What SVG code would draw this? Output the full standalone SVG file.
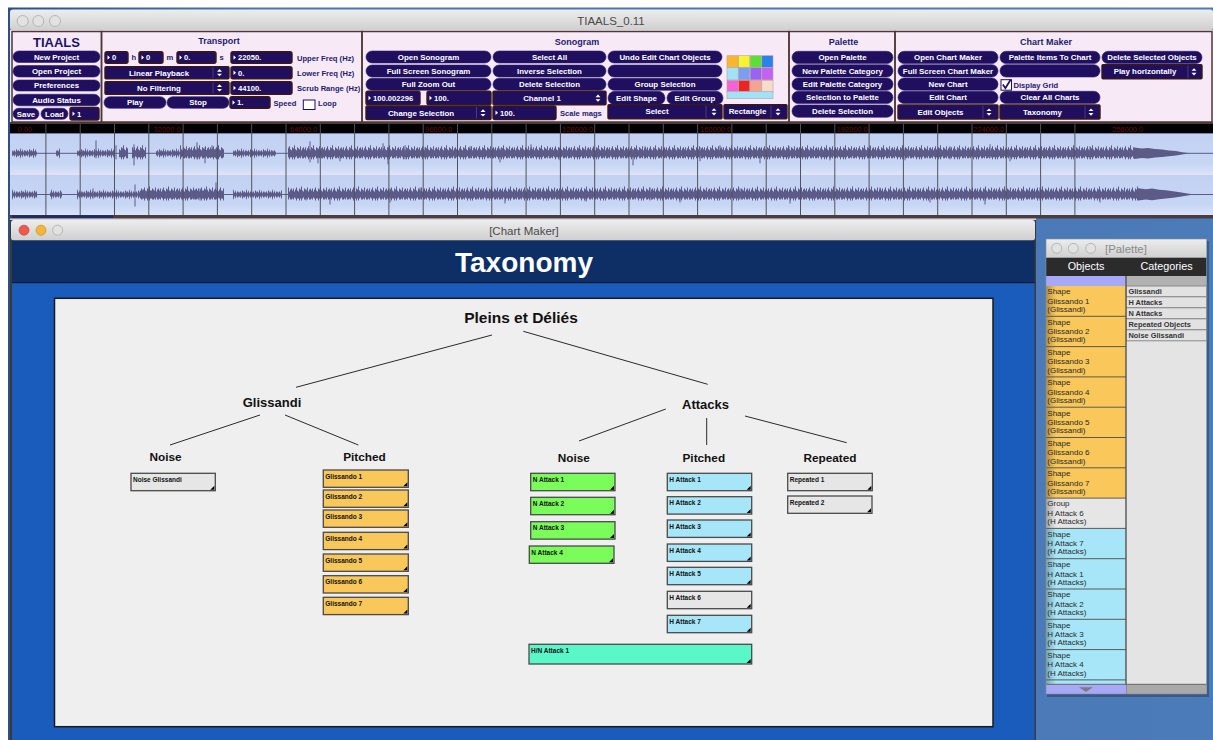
<svg xmlns="http://www.w3.org/2000/svg" xmlns:xlink="http://www.w3.org/1999/xlink" width="1213" height="740" viewBox="0 0 1213 740">
<style>
.b{fill:#1f0f5e;stroke:#2e2070;stroke-width:.6}
.bt{font:bold 7.9px "Liberation Sans",Arial,sans-serif;fill:#fff;text-anchor:middle}
.nb{fill:#1f0f5e;stroke:#3b1818;stroke-width:1.4}
.nt{font:bold 7.6px "Liberation Sans",Arial,sans-serif;fill:#fff}
.lb{font:bold 7.6px "Liberation Sans",Arial,sans-serif;fill:#1e1b6e}
.pt{font:bold 9px "Liberation Sans",Arial,sans-serif;fill:#1e1b6e;text-anchor:middle}
.w{fill:#fff}
.sep{stroke:#6a5a8a;stroke-width:.6}
.pn{fill:none;stroke:#4d3838;stroke-width:1.5}
.tl{fill:#e2e2e2;stroke:#a9a9a9;stroke-width:.8}
.wt{font:11.5px "Liberation Sans",Arial,sans-serif;fill:#4a4a4a;text-anchor:middle}
.node rect{stroke:#4a4a4a;stroke-width:1.3}
.node path{fill:#000}
.nl{font:bold 6.5px "Liberation Sans",Arial,sans-serif;fill:#111}
.hd{font:bold 11.8px "Liberation Sans",Arial,sans-serif;fill:#111;text-anchor:middle}
.cn line{stroke:#2a2a2a;stroke-width:1}
.wf{stroke:#5c5a86;stroke-width:1;fill:none}
.rl{font:7.5px "Liberation Sans",Arial,sans-serif;fill:#6a0c0c}
.po{font:8px "Liberation Sans",Arial,sans-serif;fill:#2a2a2a}
.pc{font:bold 7.4px "Liberation Sans",Arial,sans-serif;fill:#333}
.gold{fill:#f9c75a}
.blu{fill:#a6e6f8}
.gry{fill:#e6e6e6}
.grn{fill:#7afc5a}
</style>
<defs>
<linearGradient id="tb" x1="0" y1="0" x2="0" y2="1"><stop offset="0" stop-color="#ededed"/><stop offset="1" stop-color="#cfcfcf"/></linearGradient>
<linearGradient id="desk" x1="0" y1="0" x2="1" y2="0"><stop offset="0" stop-color="#2c4f86"/><stop offset=".2" stop-color="#4675b2"/><stop offset="1" stop-color="#4b7bb8"/></linearGradient>
<linearGradient id="ch" x1="0" y1="0" x2="0" y2="1"><stop offset="0" stop-color="#c2d0f2"/><stop offset=".75" stop-color="#c8d6f5"/><stop offset="1" stop-color="#d9e3f9"/></linearGradient>
<linearGradient id="sh" x1="0" y1="0" x2="1" y2="0"><stop offset="0" stop-color="#000" stop-opacity=".28"/><stop offset="1" stop-color="#000" stop-opacity="0"/></linearGradient>
<path id="wa" d="M0.5 8v4M1.5 7v6M2.5 8.5v3M3.5 6v8M4.5 7.5v5M5.5 7v6M6.5 8v4M7.5 5.5v9M8.5 8v4M9.5 6.5v7M10.5 8.5v3M11.5 7v6M12.5 7.5v5" class="wf"/>
<path id="wb" d="M0.5 8v8M1.5 6v11M2.5 9v6M3.5 7v9M4.5 5v13M5.5 8v8M6.5 9v7M7.5 6v12M8.5 7v9M9.5 4v14M10.5 8v8M11.5 9v6M12.5 6v11M13.5 7v10M14.5 8v8M15.5 5v12M16.5 9v6M17.5 7v10M18.5 6v11" class="wf"/>
<pattern id="pa1" patternUnits="userSpaceOnUse" x="0" y="143.3" width="13" height="20"><use xlink:href="#wa"/></pattern>
<pattern id="pb1" patternUnits="userSpaceOnUse" x="0" y="141.3" width="19" height="24"><use xlink:href="#wb"/></pattern>
<pattern id="pa2" patternUnits="userSpaceOnUse" x="5" y="184.5" width="13" height="20"><use xlink:href="#wa"/></pattern>
<pattern id="pb2" patternUnits="userSpaceOnUse" x="7" y="182.5" width="19" height="24"><use xlink:href="#wb"/></pattern>
</defs>

<!-- screen background -->
<rect x="0" y="0" width="1213" height="740" fill="#fff"/>
<rect x="8" y="7.5" width="1205" height="733" fill="url(#desk)"/>

<!-- ================= MAIN WINDOW ================= -->
<g id="main-window">
<rect x="10" y="9.5" width="1203" height="21" fill="url(#tb)" rx="3"/>
<circle cx="22.7" cy="21" r="5.5" class="tl"/><circle cx="38.3" cy="21" r="5.5" class="tl"/><circle cx="55" cy="21" r="5.5" class="tl"/>
<text x="611" y="25" class="wt">TIAALS_0.11</text>
<rect x="10" y="30" width="1203" height="92.5" fill="#f8e9f7"/>
<rect x="12" y="31.5" width="89.5" height="90.5" class="pn"/>
<rect x="101.5" y="31.5" width="260.5" height="90.5" class="pn"/>
<rect x="362" y="31.5" width="427" height="90.5" class="pn"/>
<rect x="789" y="31.5" width="106" height="90.5" class="pn"/>
<rect x="895" y="31.5" width="317" height="90.5" class="pn"/>
</g>

<!-- TIAALS panel -->
<g id="panel-tiaals">
<text x="56.5" y="46.5" style="font:bold 13px 'Liberation Sans',Arial,sans-serif;fill:#1b1464;text-anchor:middle">TIAALS</text>
<rect class="b" x="13" y="51" width="87" height="11.5" rx="5.75"/><text class="bt" x="56.5" y="59.5">New Project</text>
<rect class="b" x="13" y="65.5" width="87" height="11.5" rx="5.75"/><text class="bt" x="56.5" y="74">Open Project</text>
<rect class="b" x="13" y="80" width="87" height="11" rx="5.5"/><text class="bt" x="56.5" y="88.2">Preferences</text>
<rect class="b" x="13" y="94.3" width="87" height="11.5" rx="5.75"/><text class="bt" x="56.5" y="102.8">Audio Status</text>
<rect class="b" x="13" y="108.3" width="26" height="11" rx="5.5"/><text class="bt" x="26" y="116.5">Save</text>
<rect class="b" x="41" y="108.3" width="27" height="11" rx="5.5"/><text class="bt" x="54.5" y="116.5">Load</text>
<rect class="nb" x="70" y="107.5" width="29" height="12.5" rx="2"/><path class="w" d="M72.5 111.5v4.5l2.5-2.25z"/><text class="nt" x="77" y="116.5">1</text>
</g>

<!-- Transport panel -->
<g id="panel-transport">
<text class="pt" x="219" y="44">Transport</text>
<rect class="nb" x="105" y="51.7" width="23" height="11.6" rx="2"/><path class="w" d="M107.5 55.3v4.5l2.5-2.25z"/><text class="nt" x="112" y="60.3">0</text>
<text class="lb" x="131.5" y="60.3">h</text>
<rect class="nb" x="139" y="51.7" width="24" height="11.6" rx="2"/><path class="w" d="M141.5 55.3v4.5l2.5-2.25z"/><text class="nt" x="146" y="60.3">0</text>
<text class="lb" x="166.5" y="60.3">m</text>
<rect class="nb" x="177" y="51.7" width="39" height="11.6" rx="2"/><path class="w" d="M179.5 55.3v4.5l2.5-2.25z"/><text class="nt" x="184" y="60.3">0.</text>
<text class="lb" x="219.5" y="60.3">s</text>
<rect class="nb" x="231" y="51.7" width="61" height="11.6" rx="2"/><path class="w" d="M233.5 55.3v4.5l2.5-2.25z"/><text class="nt" x="238" y="60.3">22050.</text>
<text class="lb" x="297" y="60.5">Upper Freq (Hz)</text>

<rect class="nb" x="105" y="66.7" width="124" height="12" rx="1"/><line class="sep" x1="213" y1="67.5" x2="213" y2="78"/>
<path class="w" d="M217 71.7h5l-2.5-2.6zM217 73.7h5l-2.5 2.6z"/><text class="bt" x="159" y="75.5">Linear Playback</text>
<rect class="nb" x="231" y="66.7" width="61" height="12" rx="2"/><path class="w" d="M233.5 70.5v4.5l2.5-2.25z"/><text class="nt" x="238" y="75.5">0.</text>
<text class="lb" x="297" y="75.5">Lower Freq (Hz)</text>

<rect class="nb" x="105" y="81.7" width="124" height="12.5" rx="1"/><line class="sep" x1="213" y1="82.5" x2="213" y2="93.5"/>
<path class="w" d="M217 86.9h5l-2.5-2.6zM217 88.9h5l-2.5 2.6z"/><text class="bt" x="159" y="90.7">No Filtering</text>
<rect class="nb" x="231" y="81.7" width="61" height="12.5" rx="2"/><path class="w" d="M233.5 85.7v4.5l2.5-2.25z"/><text class="nt" x="238" y="90.7">44100.</text>
<text class="lb" x="297" y="90.5">Scrub Range (Hz)</text>

<rect class="b" x="104" y="96.7" width="62" height="11.6" rx="5.8"/><text class="bt" x="135" y="105.2">Play</text>
<rect class="b" x="167" y="96.7" width="62" height="11.6" rx="5.8"/><text class="bt" x="198" y="105.2">Stop</text>
<rect class="nb" x="230" y="96.7" width="40" height="11.6" rx="2"/><path class="w" d="M232.5 100.3v4.5l2.5-2.25z"/><text class="nt" x="237" y="105.3">1.</text>
<text class="lb" x="273.5" y="106">Speed</text>
<rect x="303.3" y="100" width="11.7" height="9.5" fill="#fff" stroke="#1f0f5e" stroke-width="1"/>
<text class="lb" x="318" y="106.3">Loop</text>
</g>

<!-- Sonogram panel -->
<g id="panel-sonogram">
<text class="pt" x="577" y="44.5">Sonogram</text>
<rect class="b" x="366" y="51" width="125" height="12" rx="6"/><text class="bt" x="428.5" y="59.8">Open Sonogram</text>
<rect class="b" x="493" y="51" width="113" height="12" rx="6"/><text class="bt" x="549.5" y="59.8">Select All</text>
<rect class="b" x="608" y="51" width="114" height="12" rx="6"/><text class="bt" x="665" y="59.8">Undo Edit Chart Objects</text>
<rect class="b" x="366" y="65" width="125" height="12" rx="6"/><text class="bt" x="428.5" y="73.8">Full Screen Sonogram</text>
<rect class="b" x="493" y="65" width="113" height="12" rx="6"/><text class="bt" x="549.5" y="73.8">Inverse Selection</text>
<rect class="b" x="608" y="65" width="114" height="12" rx="6"/>
<rect class="b" x="366" y="78.3" width="125" height="12" rx="6"/><text class="bt" x="428.5" y="87.1">Full Zoom Out</text>
<rect class="b" x="493" y="78.3" width="113" height="12" rx="6"/><text class="bt" x="549.5" y="87.1">Delete Selection</text>
<rect class="b" x="608" y="78.3" width="114" height="12" rx="6"/><text class="bt" x="665" y="87.1">Group Selection</text>

<rect class="nb" x="366" y="91.3" width="54" height="13.5" rx="2"/><path class="w" d="M368.5 95.8v4.5l2.5-2.25z"/><text class="nt" x="373" y="100.8">100.002296</text>
<rect class="nb" x="427" y="91.3" width="64" height="13.5" rx="2"/><path class="w" d="M429.5 95.8v4.5l2.5-2.25z"/><text class="nt" x="434" y="100.8">100.</text>
<rect class="nb" x="493" y="91.3" width="113" height="13.5" rx="1"/>
<path class="w" d="M595.5 97.2h5l-2.5-2.6zM595.5 99.2h5l-2.5 2.6z"/><text class="bt" x="542" y="100.8">Channel 1</text>
<rect class="b" x="608" y="91.3" width="57" height="13.5" rx="6.75"/><text class="bt" x="636.5" y="100.8">Edit Shape</text>
<rect class="b" x="667" y="91.3" width="56" height="13.5" rx="6.75"/><text class="bt" x="695" y="100.8">Edit Group</text>

<rect class="nb" x="366" y="106" width="125" height="13.5" rx="1"/><line class="sep" x1="476.5" y1="107" x2="476.5" y2="118.5"/>
<path class="w" d="M480.5 111.9h5l-2.5-2.6zM480.5 113.9h5l-2.5 2.6z"/><text class="bt" x="421" y="115.5">Change Selection</text>
<rect class="nb" x="493" y="106" width="63" height="13.5" rx="2"/><path class="w" d="M495.5 110.5v4.5l2.5-2.25z"/><text class="nt" x="500" y="115.5">100.</text>
<text class="lb" x="560" y="116.3">Scale mags</text>
<rect class="nb" x="608" y="104.7" width="114" height="14" rx="1"/><line class="sep" x1="706" y1="105.5" x2="706" y2="118"/>
<path class="w" d="M711.5 110.8h5l-2.5-2.6zM711.5 112.8h5l-2.5 2.6z"/><text class="bt" x="657" y="114.4">Select</text>
<rect class="nb" x="724" y="104.7" width="63" height="14" rx="1"/><line class="sep" x1="771" y1="105.5" x2="771" y2="118"/>
<path class="w" d="M775.5 110.8h5l-2.5-2.6zM775.5 112.8h5l-2.5 2.6z"/><text class="bt" x="747.5" y="114.4">Rectangle</text>

<g stroke="#b4a2a6" stroke-width=".6">
<rect x="727" y="55.7" width="11.2" height="11.6" fill="#f8b62e"/>
<rect x="738.6" y="55.7" width="11.2" height="11.6" fill="#f6f42c"/>
<rect x="750.2" y="55.7" width="11.2" height="11.6" fill="#5ae032"/>
<rect x="761.8" y="55.7" width="11.2" height="11.6" fill="#2a82e8"/>
<rect x="727" y="67.7" width="11.2" height="12.2" fill="#a2e2f6"/>
<rect x="738.6" y="67.7" width="11.2" height="12.2" fill="#7c9ef2"/>
<rect x="750.2" y="67.7" width="11.2" height="12.2" fill="#9a62f0"/>
<rect x="761.8" y="67.7" width="11.2" height="12.2" fill="#c462f0"/>
<rect x="727" y="80.3" width="11.2" height="12.2" fill="#f264d2"/>
<rect x="738.6" y="80.3" width="11.2" height="12.2" fill="#f02222"/>
<rect x="750.2" y="80.3" width="11.2" height="12.2" fill="#f8a292"/>
<rect x="761.8" y="80.3" width="11.2" height="12.2" fill="#f8dcca"/>
<rect x="727" y="91.3" width="46" height="7.4" fill="#a2e2f6"/>
</g>
</g>

<!-- Palette panel -->
<g id="panel-palette">
<text class="pt" x="843.5" y="44.5">Palette</text>
<rect class="b" x="792" y="51.3" width="101" height="12.3" rx="6.1"/><text class="bt" x="842.5" y="60.2">Open Palette</text>
<rect class="b" x="792" y="64.7" width="101" height="12.3" rx="6.1"/><text class="bt" x="842.5" y="73.6">New Palette Category</text>
<rect class="b" x="792" y="78" width="101" height="12.3" rx="6.1"/><text class="bt" x="842.5" y="86.9">Edit Palette Category</text>
<rect class="b" x="792" y="91.3" width="101" height="12.3" rx="6.1"/><text class="bt" x="842.5" y="100.2">Selection to Palette</text>
<rect class="b" x="792" y="105" width="101" height="12.3" rx="6.1"/><text class="bt" x="842.5" y="113.9">Delete Selection</text>
</g>

<!-- Chart Maker panel -->
<g id="panel-chartmaker">
<text class="pt" x="1046" y="44.5">Chart Maker</text>
<rect class="b" x="898" y="51.3" width="100" height="12.3" rx="6.1"/><text class="bt" x="948" y="60.2">Open Chart Maker</text>
<rect class="b" x="1000" y="51.3" width="100" height="12.3" rx="6.1"/><text class="bt" x="1050" y="60.2">Palette Items To Chart</text>
<rect class="b" x="1102" y="51.3" width="100" height="12.3" rx="6.1"/><text class="bt" x="1152" y="60.2">Delete Selected Objects</text>
<rect class="b" x="898" y="64.7" width="100" height="12.3" rx="6.1"/><text class="bt" x="948" y="73.6">Full Screen Chart Maker</text>
<rect class="b" x="1000" y="64.7" width="100" height="12.3" rx="6.1"/>
<rect class="nb" x="1102" y="64.7" width="100" height="14" rx="1"/><line class="sep" x1="1188" y1="65.5" x2="1188" y2="78"/>
<path class="w" d="M1191.5 70.8h5l-2.5-2.6zM1191.5 72.8h5l-2.5 2.6z"/><text class="bt" x="1145" y="74.4">Play horizontally</text>
<rect class="b" x="898" y="78" width="100" height="12.3" rx="6.1"/><text class="bt" x="948" y="86.9">New Chart</text>
<rect x="1001" y="79.7" width="10.5" height="10.5" fill="#fff" stroke="#1f0f5e" stroke-width="1"/>
<path d="M1002.8 84.6l2.6 3.6l5.2-8.4" fill="none" stroke="#1f0f5e" stroke-width="1.7"/>
<text class="lb" x="1013.5" y="88.3">Display Grid</text>
<rect class="b" x="898" y="91.3" width="100" height="12.3" rx="6.1"/><text class="bt" x="948" y="100.2">Edit Chart</text>
<rect class="b" x="1000" y="91.3" width="100" height="12.3" rx="6.1"/><text class="bt" x="1050" y="100.2">Clear All Charts</text>
<rect class="nb" x="898" y="105" width="100" height="14" rx="1"/><line class="sep" x1="983" y1="106" x2="983" y2="118.3"/>
<path class="w" d="M986.5 111.1h5l-2.5-2.6zM986.5 113.1h5l-2.5 2.6z"/><text class="bt" x="940.5" y="114.7">Edit Objects</text>
<rect class="nb" x="1000" y="105" width="100" height="14" rx="1"/><line class="sep" x1="1085" y1="106" x2="1085" y2="118.3"/>
<path class="w" d="M1088.5 111.1h5l-2.5-2.6zM1088.5 113.1h5l-2.5 2.6z"/><text class="bt" x="1042.5" y="114.7">Taxonomy</text>
</g>

<!-- ================= WAVEFORM ================= -->
<g id="waveform">
<rect x="10" y="122" width="1203" height="2.5" fill="#4a3a3a"/>
<rect x="10" y="124" width="1203" height="9.5" fill="#000"/>
<rect x="10" y="133.5" width="1203" height="40.8" fill="url(#ch)"/>
<rect x="10" y="174.8" width="1203" height="40.2" fill="url(#ch)"/>
<line x1="10" y1="174.4" x2="1213" y2="174.4" stroke="#f6e8f0" stroke-width="1"/>
<text class="rl" x="17.5" y="131.8">0.00</text>
<text class="rl" x="153.6" y="131.8">32000.0</text>
<text class="rl" x="290" y="131.8">64000.0</text>
<text class="rl" x="425" y="131.8">96000.0</text>
<text class="rl" x="562" y="131.8">128000.0</text>
<text class="rl" x="700" y="131.8">160000.0</text>
<text class="rl" x="836.5" y="131.8">192000.0</text>
<text class="rl" x="973" y="131.8">224000.0</text>
<text class="rl" x="1112" y="131.8">256000.0</text>
<!-- channel 1 -->
<line x1="12" y1="153.3" x2="1213" y2="153.3" class="wf"/>
<rect x="12" y="143.3" width="25" height="20" fill="url(#pa1)"/>
<rect x="56" y="143.3" width="4" height="20" fill="url(#pa1)"/>
<rect x="233" y="143.3" width="43" height="20" fill="url(#pa1)"/>
<rect x="77" y="141.3" width="38" height="24" fill="url(#pa1)"/>
<rect x="119" y="141.3" width="9" height="24" fill="url(#pb1)"/>
<rect x="132" y="141.3" width="14" height="24" fill="url(#pb1)"/>
<rect x="156" y="141.3" width="68" height="24" fill="url(#pa1)"/>
<rect x="180" y="141.3" width="44" height="24" fill="url(#pb1)"/>
<rect x="288" y="141.3" width="848" height="24" fill="url(#pb1)"/>
<polygon points="1134,147.5 1142,148.6 1148,147.9 1155,149 1162,149.4 1169,150.4 1176,151 1182,152.2 1190,153.3 1182,154.5 1176,155.4 1169,156.3 1162,157 1155,157.6 1148,158.5 1142,158 1134,159" fill="#5c5a86"/>
<path class="wf" d="M96 140.3v18M116 145.3v14M134 144.3v21M197 142.3v17M205 147.3v16M212 145.3v12M289 147.3v10M310 141.3v21M318 148.3v15M340 149.3v12M383 143.3v14M388 147.3v17M405 145.3v14M425 147.3v11M470 146.3v12M500 148.3v14M531 144.3v13M560 147.3v13M633 149.3v16M645 146.3v12M700 147.3v14M720 145.3v12M760 148.3v15M789 146.3v12M830 147.3v13M870 145.3v13M905 148.3v12M950 146.3v13M990 144.3v14M1010 149.3v12M1050 147.3v11M1090 146.3v13M1130 148.3v10"/>
<!-- channel 2 -->
<line x1="12" y1="194.5" x2="1213" y2="194.5" class="wf"/>
<rect x="12" y="184.5" width="25" height="20" fill="url(#pa2)"/>
<rect x="50" y="184.5" width="12" height="20" fill="url(#pa2)"/>
<rect x="233" y="184.5" width="49" height="20" fill="url(#pa2)"/>
<rect x="77" y="182.5" width="147" height="24" fill="url(#pa2)"/>
<rect x="140" y="182.5" width="84" height="24" fill="url(#pb2)"/>
<rect x="288" y="182.5" width="852" height="24" fill="url(#pb2)"/>
<polygon points="1138,188.3 1146,189.2 1152,188.6 1159,189.8 1166,190.3 1173,191.2 1180,192.2 1186,193.3 1194,194.5 1186,195.8 1180,196.8 1173,197.8 1166,198.6 1159,199.2 1152,200.2 1146,199.6 1138,200.6" fill="#5c5a86"/>
<path class="wf" d="M93 188.5v10M135 184.5v22M200 188.5v12M216 182.5v17M306 189.5v11M330 190.5v14M390 188.5v14M420 187.5v12M505 190.5v13M540 188.5v11M586 189.5v12M650 187.5v13M680 189.5v13M740 188.5v11M790 189.5v14M880 187.5v12M930 190.5v12M985 188.5v16M1040 187.5v13M1100 189.5v13"/>
<!-- grid -->
<path stroke="#50535e" stroke-width="1" d="M45.9 124V215M80.2 124V215M114.5 124V215M148.8 124V215M183.1 124V215M217.4 124V215M251.7 124V215M286 124V215M320.3 124V215M354.6 124V215M388.9 124V215M423.2 124V215M457.5 124V215M491.8 124V215M526.1 124V215M560.4 124V215M594.7 124V215M629 124V215M663.3 124V215M697.6 124V215M731.9 124V215M766.2 124V215M800.5 124V215M834.8 124V215M869.1 124V215M903.4 124V215M937.7 124V215M972 124V215M1006.3 124V215M1040.6 124V215M1074.9 124V215"/>
<rect x="10" y="215" width="1203" height="3.5" fill="#4d3c3e"/>
<rect x="12" y="215.3" width="101" height="2.5" fill="#1c2a66"/>
<rect x="10" y="218.5" width="1026" height="2" fill="#d6d6d6"/>
</g>

<!-- ================= CHART MAKER WINDOW ================= -->
<g id="chart-window">
<rect x="10" y="220" width="1026" height="521" fill="#3a3a3a"/>
<rect x="11" y="220" width="1024" height="20.5" fill="url(#tb)" rx="3"/>
<circle cx="24" cy="230.2" r="5" fill="#ec5a4e" stroke="#c4403a" stroke-width=".7"/>
<circle cx="41" cy="230.2" r="5" fill="#f4b63a" stroke="#c99124" stroke-width=".7"/>
<circle cx="57.6" cy="230.2" r="5" class="tl"/>
<text x="524" y="234.5" class="wt">[Chart Maker]</text>
<rect x="12" y="240.5" width="1022.5" height="41.5" fill="#0d2f66"/>
<text x="524" y="272" style="font:bold 28px 'Liberation Sans',Arial,sans-serif;fill:#fff;text-anchor:middle">Taxonomy</text>
<rect x="12" y="282" width="1022.5" height="1.3" fill="#08183a"/>
<rect x="12" y="283.3" width="1022.5" height="457" fill="#1a5cbb"/>
<rect x="54.5" y="298.3" width="938.5" height="428.4" fill="#efefef" stroke="#1a1a1a" stroke-width="1.5"/>
</g>

<!-- connectors -->
<g id="connectors" class="cn">
<line x1="492" y1="335" x2="296" y2="387.3"/>
<line x1="523.3" y1="331.3" x2="707.7" y2="384.3"/>
<line x1="260" y1="415" x2="170" y2="445"/>
<line x1="285" y1="415" x2="358.3" y2="445"/>
<line x1="665.8" y1="409" x2="579" y2="441"/>
<line x1="706.7" y1="418" x2="706.7" y2="445"/>
<line x1="745" y1="416" x2="846.7" y2="442.7"/>
</g>

<!-- heading nodes -->
<g id="h-root"><text x="521" y="323" style="font:bold 15.5px 'Liberation Sans',Arial,sans-serif;fill:#111;text-anchor:middle">Pleins et Déliés</text></g>
<g id="h-glissandi"><text x="272" y="407" style="font:bold 13px 'Liberation Sans',Arial,sans-serif;fill:#111;text-anchor:middle">Glissandi</text></g>
<g id="h-attacks"><text x="705.5" y="409" style="font:bold 13px 'Liberation Sans',Arial,sans-serif;fill:#111;text-anchor:middle">Attacks</text></g>
<g id="h-gl-noise"><text class="hd" x="165.5" y="461">Noise</text></g>
<g id="h-gl-pitched"><text class="hd" x="364.5" y="461">Pitched</text></g>
<g id="h-at-noise"><text class="hd" x="573.8" y="461.7">Noise</text></g>
<g id="h-at-pitched"><text class="hd" x="703.8" y="461.7">Pitched</text></g>
<g id="h-at-repeated"><text class="hd" x="830" y="461.7">Repeated</text></g>

<!-- item nodes -->
<g id="n-noise-gliss" class="node"><rect class="gry" x="131" y="473.3" width="84.3" height="17.4"/><path d="M214.3 489.7h-4l4-4z"/><text class="nl" x="133" y="482.3">Noise Glissandi</text></g>
<g id="n-gliss1" class="node"><rect class="gold" x="323.3" y="470" width="85" height="17.3"/><path d="M407.3 486.3h-4l4-4z"/><text class="nl" x="325.3" y="478.6">Glissando 1</text></g>
<g id="n-gliss2" class="node"><rect class="gold" x="323.3" y="490" width="85" height="17.3"/><path d="M407.3 506.3h-4l4-4z"/><text class="nl" x="325.3" y="498.6">Glissando 2</text></g>
<g id="n-gliss3" class="node"><rect class="gold" x="323.3" y="510" width="85" height="17.3"/><path d="M407.3 526.3h-4l4-4z"/><text class="nl" x="325.3" y="518.6">Glissando 3</text></g>
<g id="n-gliss4" class="node"><rect class="gold" x="323.3" y="532.3" width="85" height="17.3"/><path d="M407.3 548.6h-4l4-4z"/><text class="nl" x="325.3" y="540.9">Glissando 4</text></g>
<g id="n-gliss5" class="node"><rect class="gold" x="323.3" y="554" width="85" height="17.3"/><path d="M407.3 570.3h-4l4-4z"/><text class="nl" x="325.3" y="562.6">Glissando 5</text></g>
<g id="n-gliss6" class="node"><rect class="gold" x="323.3" y="575.7" width="85" height="17.3"/><path d="M407.3 592h-4l4-4z"/><text class="nl" x="325.3" y="584.3">Glissando 6</text></g>
<g id="n-gliss7" class="node"><rect class="gold" x="323.3" y="597.3" width="85" height="17.3"/><path d="M407.3 613.6h-4l4-4z"/><text class="nl" x="325.3" y="605.9">Glissando 7</text></g>

<g id="n-natt1" class="node"><rect class="grn" x="530.7" y="473.3" width="84.3" height="17.4"/><path d="M614 489.7h-4l4-4z"/><text class="nl" x="532.7" y="482">N Attack 1</text></g>
<g id="n-natt2" class="node"><rect class="grn" x="530.7" y="497.3" width="84.3" height="17.4"/><path d="M614 513.7h-4l4-4z"/><text class="nl" x="532.7" y="506">N Attack 2</text></g>
<g id="n-natt3" class="node"><rect class="grn" x="530.7" y="521.7" width="84.3" height="17.4"/><path d="M614 538.1h-4l4-4z"/><text class="nl" x="532.7" y="530.4">N Attack 3</text></g>
<g id="n-natt4" class="node"><rect class="grn" x="529.3" y="546" width="84.7" height="17.3"/><path d="M613 562.3h-4l4-4z"/><text class="nl" x="531.3" y="554.7">N Attack 4</text></g>

<g id="n-hatt1" class="node"><rect class="blu" x="667.3" y="473.3" width="84.4" height="17.4"/><path d="M750.7 489.7h-4l4-4z"/><text class="nl" x="669.3" y="482">H Attack 1</text></g>
<g id="n-hatt2" class="node"><rect class="blu" x="667.3" y="496.7" width="84.4" height="17.4"/><path d="M750.7 513.1h-4l4-4z"/><text class="nl" x="669.3" y="505.4">H Attack 2</text></g>
<g id="n-hatt3" class="node"><rect class="blu" x="667.3" y="520" width="84.4" height="17.4"/><path d="M750.7 536.4h-4l4-4z"/><text class="nl" x="669.3" y="528.7">H Attack 3</text></g>
<g id="n-hatt4" class="node"><rect class="blu" x="667.3" y="544" width="84.4" height="17.4"/><path d="M750.7 560.4h-4l4-4z"/><text class="nl" x="669.3" y="552.7">H Attack 4</text></g>
<g id="n-hatt5" class="node"><rect class="blu" x="667.3" y="567.3" width="84.4" height="17.4"/><path d="M750.7 583.7h-4l4-4z"/><text class="nl" x="669.3" y="576">H Attack 5</text></g>
<g id="n-hatt6" class="node"><rect class="gry" x="667.3" y="591.3" width="84.4" height="17.4"/><path d="M750.7 607.7h-4l4-4z"/><text class="nl" x="669.3" y="600">H Attack 6</text></g>
<g id="n-hatt7" class="node"><rect class="blu" x="667.3" y="615.3" width="84.4" height="17.4"/><path d="M750.7 631.7h-4l4-4z"/><text class="nl" x="669.3" y="624">H Attack 7</text></g>

<g id="n-hnatt1" class="node"><rect x="529" y="644.3" width="222.7" height="19.7" fill="#5af8c8"/><path d="M750.7 663h-4l4-4z"/><text class="nl" x="531" y="653">H/N Attack 1</text></g>
<g id="n-rep1" class="node"><rect class="gry" x="787.7" y="473.3" width="84.6" height="17.4"/><path d="M871.3 489.7h-4l4-4z"/><text class="nl" x="789.7" y="482">Repeated 1</text></g>
<g id="n-rep2" class="node"><rect class="gry" x="787.7" y="496" width="84.3" height="17.3"/><path d="M871 512.3h-4l4-4z"/><text class="nl" x="789.7" y="504.6">Repeated 2</text></g>

<!-- ================= PALETTE WINDOW ================= -->
<g id="palette-window">
<rect x="1047" y="241" width="162" height="456" fill="#000" opacity=".25"/>
<rect x="1046" y="239" width="160.7" height="455" fill="#e4e4e4"/>
<rect x="1046" y="239" width="160.7" height="19" fill="url(#tb)" rx="3"/>
<circle cx="1056.7" cy="248.3" r="5" class="tl"/><circle cx="1073.3" cy="248.3" r="5" class="tl"/><circle cx="1090.7" cy="248.3" r="5" class="tl"/>
<text x="1105" y="252.5" style="font:11.4px 'Liberation Sans',Arial,sans-serif;fill:#8a8a8a">[Palette]</text>
<rect x="1046" y="257.7" width="160.7" height="18.3" fill="#2b2b2b"/>
<text x="1086" y="270" style="font:10.8px 'Liberation Sans',Arial,sans-serif;fill:#fff;text-anchor:middle">Objects</text>
<text x="1166.5" y="270" style="font:10.8px 'Liberation Sans',Arial,sans-serif;fill:#fff;text-anchor:middle">Categories</text>
<rect x="1046" y="276" width="80" height="10" fill="#a8a8f8"/>
<rect x="1126" y="276" width="80.7" height="10" fill="#b2b2b2"/>

<g id="pal-categories">
<g fill="#e2e2e2" stroke="#8a8a8a" stroke-width="1">
<rect x="1126" y="286" width="80.7" height="10.8"/>
<rect x="1126" y="296.8" width="80.7" height="11"/>
<rect x="1126" y="307.8" width="80.7" height="11"/>
<rect x="1126" y="318.8" width="80.7" height="11"/>
<rect x="1126" y="329.8" width="80.7" height="11"/>
</g>
<text class="pc" x="1128.5" y="294.3">Glissandi</text>
<text class="pc" x="1128.5" y="305.3">H Attacks</text>
<text class="pc" x="1128.5" y="316.3">N Attacks</text>
<text class="pc" x="1128.5" y="327.3">Repeated Objects</text>
<text class="pc" x="1128.5" y="338.3">Noise Glissandi</text>
</g>

<g id="pal-objects">
<rect x="1046" y="286" width="80" height="212.1" class="gold"/>
<rect x="1046" y="498.1" width="80" height="30.3" class="gry"/>
<rect x="1046" y="528.4" width="80" height="156" class="blu"/>
<rect x="1046" y="286" width="10" height="398.3" fill="url(#sh)"/>
<path stroke="#5a5a5a" stroke-width="1" d="M1046 316.3h80M1046 346.6h80M1046 376.9h80M1046 407.2h80M1046 437.5h80M1046 467.8h80M1046 498.1h80M1046 528.4h80M1046 558.7h80M1046 589h80M1046 619.3h80M1046 649.6h80M1046 679.9h80"/>
<g class="po">
<text x="1047.3" y="294.3">Shape</text><text x="1047.3" y="303.8">Glissando 1</text><text x="1047.3" y="312">(Glissandi)</text>
<text x="1047.3" y="324.6">Shape</text><text x="1047.3" y="334.1">Glissando 2</text><text x="1047.3" y="342.3">(Glissandi)</text>
<text x="1047.3" y="354.9">Shape</text><text x="1047.3" y="364.4">Glissando 3</text><text x="1047.3" y="372.6">(Glissandi)</text>
<text x="1047.3" y="385.2">Shape</text><text x="1047.3" y="394.7">Glissando 4</text><text x="1047.3" y="402.9">(Glissandi)</text>
<text x="1047.3" y="415.5">Shape</text><text x="1047.3" y="425">Glissando 5</text><text x="1047.3" y="433.2">(Glissandi)</text>
<text x="1047.3" y="445.8">Shape</text><text x="1047.3" y="455.3">Glissando 6</text><text x="1047.3" y="463.5">(Glissandi)</text>
<text x="1047.3" y="476.1">Shape</text><text x="1047.3" y="485.6">Glissando 7</text><text x="1047.3" y="493.8">(Glissandi)</text>
<text x="1047.3" y="506.4">Group</text><text x="1047.3" y="515.9">H Attack 6</text><text x="1047.3" y="524.1">(H Attacks)</text>
<text x="1047.3" y="536.7">Shape</text><text x="1047.3" y="546.2">H Attack 7</text><text x="1047.3" y="554.4">(H Attacks)</text>
<text x="1047.3" y="567">Shape</text><text x="1047.3" y="576.5">H Attack 1</text><text x="1047.3" y="584.7">(H Attacks)</text>
<text x="1047.3" y="597.3">Shape</text><text x="1047.3" y="606.8">H Attack 2</text><text x="1047.3" y="615">(H Attacks)</text>
<text x="1047.3" y="627.6">Shape</text><text x="1047.3" y="637.1">H Attack 3</text><text x="1047.3" y="645.3">(H Attacks)</text>
<text x="1047.3" y="657.9">Shape</text><text x="1047.3" y="667.4">H Attack 4</text><text x="1047.3" y="675.6">(H Attacks)</text>
</g>
</g>
<line x1="1126" y1="276" x2="1126" y2="694" stroke="#555" stroke-width="1.4"/>
<rect x="1046" y="684.3" width="80" height="9.7" fill="#a8a8f8"/>
<rect x="1126.7" y="684.3" width="80" height="9.7" fill="#a9a9a9"/>
<line x1="1046" y1="684.3" x2="1206.7" y2="684.3" stroke="#666" stroke-width="1"/>
<polygon points="1079,687.3 1093,687.3 1086,692" fill="#7a7a8a"/>
<rect x="1046" y="239" width="160.7" height="455" fill="none" stroke="#8a8a8a" stroke-width=".6"/>
</g>
</svg>
